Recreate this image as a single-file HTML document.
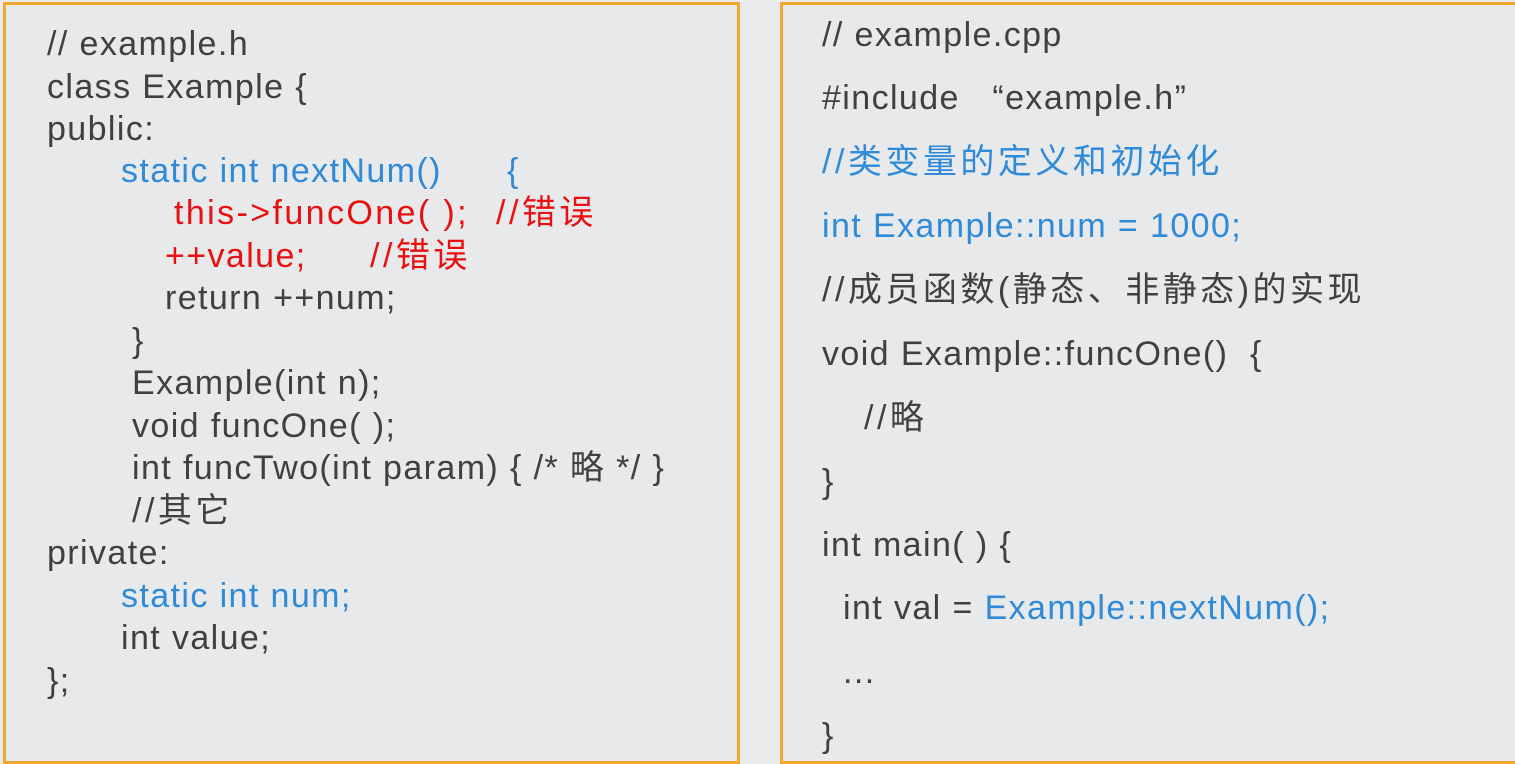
<!DOCTYPE html>
<html><head><meta charset="utf-8"><style>
body{margin:0;width:1515px;height:760px;background:#e9eaec;overflow:hidden;position:relative;font-family:"Liberation Sans","Noto Sans CJK SC",sans-serif;font-size:34px;letter-spacing:1.4px;color:#404040}
.box{position:absolute;border:3px solid #f0a830;box-sizing:border-box;background:#e8e9eb}
.l{position:absolute;white-space:pre;line-height:38px}
.b{color:#2f8ad8}.r{color:#e81010}
.c{letter-spacing:3.5px}
</style></head><body>
<div class="box" style="left:3px;top:2px;width:737px;height:762px"></div>
<div class="box" style="left:780px;top:2px;width:745px;height:762px"></div>
<div class="l" style="left:47px;top:25px">// example.h</div>
<div class="l" style="left:47px;top:68px">class Example {</div>
<div class="l" style="left:47px;top:110px">public:</div>
<div class="l b" style="left:121px;top:152px">static int nextNum()</div>
<div class="l b" style="left:507px;top:152px">{</div>
<div class="l r" style="left:174px;top:194px;letter-spacing:2.4px">this-&gt;funcOne( );</div>
<div class="l r c" style="left:496px;top:194px">//错误</div>
<div class="l r" style="left:165px;top:237px">++value;</div>
<div class="l r c" style="left:370px;top:237px">//错误</div>
<div class="l" style="left:165px;top:279px">return ++num;</div>
<div class="l" style="left:132px;top:322px">}</div>
<div class="l" style="left:132px;top:364px">Example(int n);</div>
<div class="l" style="left:132px;top:407px">void funcOne( );</div>
<div class="l" style="left:132px;top:449px">int funcTwo(int param) { /* 略 */ }</div>
<div class="l c" style="left:132px;top:492px">//其它</div>
<div class="l" style="left:47px;top:534px">private:</div>
<div class="l b" style="left:121px;top:577px">static int num;</div>
<div class="l" style="left:121px;top:619px">int value;</div>
<div class="l" style="left:47px;top:662px">};</div>

<div class="l" style="left:822px;top:16px">// example.cpp</div>
<div class="l" style="left:822px;top:79px">#include   “example.h”</div>
<div class="l b c" style="left:822px;top:143px">//类变量的定义和初始化</div>
<div class="l b" style="left:822px;top:207px">int Example::num = 1000;</div>
<div class="l c" style="left:822px;top:271px">//成员函数(静态、非静态)的实现</div>
<div class="l" style="left:822px;top:335px">void Example::funcOne()  {</div>
<div class="l c" style="left:864px;top:399px">//略</div>
<div class="l" style="left:822px;top:463px">}</div>
<div class="l" style="left:822px;top:526px">int main( ) {</div>
<div class="l" style="left:843px;top:589px">int val = <span class="b">Example::nextNum();</span></div>
<div class="l" style="left:843px;top:653px">...</div>
<div class="l" style="left:822px;top:717px">}</div>
</body></html>
